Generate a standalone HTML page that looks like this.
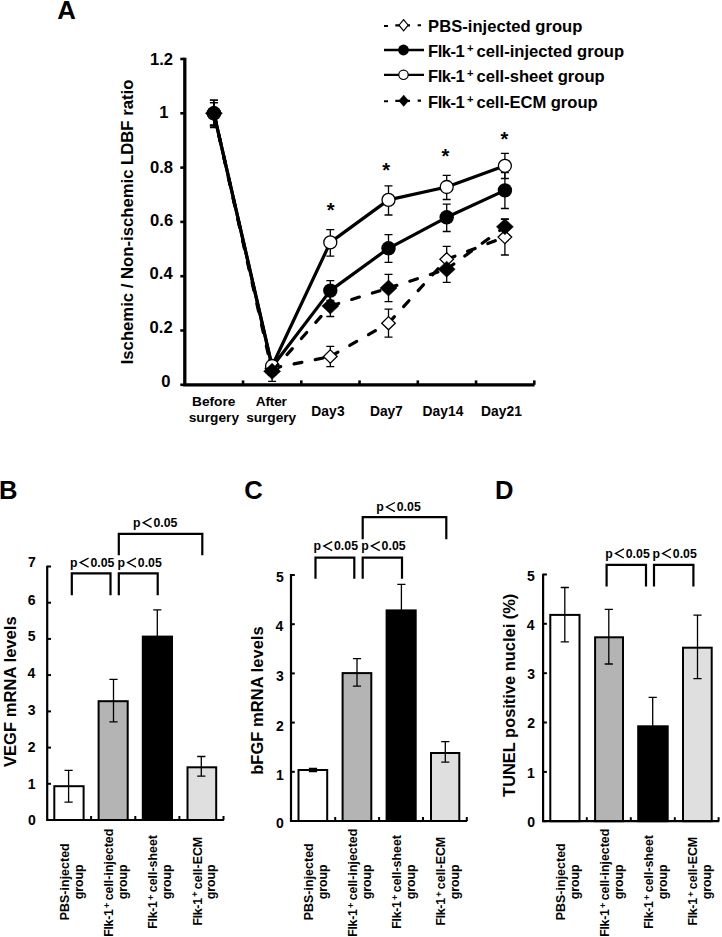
<!DOCTYPE html>
<html><head><meta charset="utf-8"><style>
html,body{margin:0;padding:0;background:#fff;}
body{width:722px;height:937px;overflow:hidden;}
svg{display:block;font-family:"Liberation Sans", sans-serif;font-weight:bold;}
text{fill:#000;}
</style></head><body>
<svg width="722" height="937" viewBox="0 0 722 937">
<text x="57.36" y="18.60" font-size="25.8">A</text>
<path d="M184.8,57.8 V384.8 H534.6" fill="none" stroke="#000" stroke-width="3.3"/>
<line x1="180.3" y1="59.00" x2="184.8" y2="59.00" stroke="#000" stroke-width="2.6"/>
<line x1="180.3" y1="113.30" x2="184.8" y2="113.30" stroke="#000" stroke-width="2.6"/>
<line x1="180.3" y1="167.60" x2="184.8" y2="167.60" stroke="#000" stroke-width="2.6"/>
<line x1="180.3" y1="221.90" x2="184.8" y2="221.90" stroke="#000" stroke-width="2.6"/>
<line x1="180.3" y1="276.20" x2="184.8" y2="276.20" stroke="#000" stroke-width="2.6"/>
<line x1="180.3" y1="330.50" x2="184.8" y2="330.50" stroke="#000" stroke-width="2.6"/>
<line x1="180.3" y1="384.80" x2="184.8" y2="384.80" stroke="#000" stroke-width="2.6"/>
<line x1="243.05" y1="380.4" x2="243.05" y2="384.8" stroke="#000" stroke-width="2.6"/>
<line x1="301.30" y1="380.4" x2="301.30" y2="384.8" stroke="#000" stroke-width="2.6"/>
<line x1="359.55" y1="380.4" x2="359.55" y2="384.8" stroke="#000" stroke-width="2.6"/>
<line x1="417.80" y1="380.4" x2="417.80" y2="384.8" stroke="#000" stroke-width="2.6"/>
<line x1="476.05" y1="380.4" x2="476.05" y2="384.8" stroke="#000" stroke-width="2.6"/>
<line x1="534.30" y1="380.4" x2="534.30" y2="384.8" stroke="#000" stroke-width="2.6"/>
<text x="149.99" y="64.95" font-size="16.6">1.2</text>
<text x="159.23" y="118.35" font-size="16.6">1</text>
<text x="149.93" y="173.00" font-size="16.6">0.8</text>
<text x="150.12" y="225.95" font-size="16.6">0.6</text>
<text x="149.61" y="279.45" font-size="16.6">0.4</text>
<text x="149.59" y="332.95" font-size="16.6">0.2</text>
<text x="161.15" y="386.65" font-size="16.6">0</text>
<text transform="translate(133.20,364.32) rotate(-90)" font-size="16.7">Ischemic / Non-ischemic LDBF ratio</text>
<text x="192.08" y="405.80" font-size="13.7" letter-spacing="-0.022">Before</text>
<text x="188.72" y="421.60" font-size="13.7" letter-spacing="0.016">surgery</text>
<text x="255.76" y="405.80" font-size="13.7" letter-spacing="-0.205">After</text>
<text x="246.32" y="421.60" font-size="13.7" letter-spacing="-0.084">surgery</text>
<text x="311.18" y="415.80" font-size="13.8" letter-spacing="0.144">Day3</text>
<text x="369.98" y="415.80" font-size="13.8" letter-spacing="-0.054">Day7</text>
<text x="422.58" y="415.80" font-size="13.8" letter-spacing="0.033">Day14</text>
<text x="480.88" y="415.80" font-size="13.8" letter-spacing="0.110">Day21</text>
<path d="M209.9,100.2 H217.9 M213.9,100.2 V127.5 M209.9,127.5 H217.9" stroke="#000" stroke-width="1.3" fill="none"/>
<path d="M268.1,362 H276.1 M272.1,362 V375 M268.1,375 H276.1" stroke="#000" stroke-width="1.3" fill="none"/>
<path d="M326.3,346.4 H334.3 M330.3,346.4 V366.7 M326.3,366.7 H334.3" stroke="#000" stroke-width="1.3" fill="none"/>
<path d="M384.5,309.1 H392.5 M388.5,309.1 V337.2 M384.5,337.2 H392.5" stroke="#000" stroke-width="1.3" fill="none"/>
<path d="M442.7,246.3 H450.7 M446.7,246.3 V271.3 M442.7,271.3 H450.7" stroke="#000" stroke-width="1.3" fill="none"/>
<path d="M500.9,219.3 H508.9 M504.9,219.3 V255.0 M500.9,255.0 H508.9" stroke="#000" stroke-width="1.3" fill="none"/>
<path d="M209.9,100.2 H217.9 M213.9,100.2 V126.0 M209.9,126.0 H217.9" stroke="#000" stroke-width="1.3" fill="none"/>
<path d="M268.1,361 H276.1 M272.1,361 V375 M268.1,375 H276.1" stroke="#000" stroke-width="1.3" fill="none"/>
<path d="M326.3,280.7 H334.3 M330.3,280.7 V300.5 M326.3,300.5 H334.3" stroke="#000" stroke-width="1.3" fill="none"/>
<path d="M384.5,234.6 H392.5 M388.5,234.6 V262.3 M384.5,262.3 H392.5" stroke="#000" stroke-width="1.3" fill="none"/>
<path d="M442.7,204.1 H450.7 M446.7,204.1 V231.5 M442.7,231.5 H450.7" stroke="#000" stroke-width="1.3" fill="none"/>
<path d="M500.9,172.5 H508.9 M504.9,172.5 V208.5 M500.9,208.5 H508.9" stroke="#000" stroke-width="1.3" fill="none"/>
<path d="M209.9,102.6 H217.9 M213.9,102.6 V124.8 M209.9,124.8 H217.9" stroke="#000" stroke-width="1.3" fill="none"/>
<path d="M268.1,360 H276.1 M272.1,360 V374 M268.1,374 H276.1" stroke="#000" stroke-width="1.3" fill="none"/>
<path d="M326.3,229.7 H334.3 M330.3,229.7 V256.2 M326.3,256.2 H334.3" stroke="#000" stroke-width="1.3" fill="none"/>
<path d="M384.5,185.9 H392.5 M388.5,185.9 V215.0 M384.5,215.0 H392.5" stroke="#000" stroke-width="1.3" fill="none"/>
<path d="M442.7,175.4 H450.7 M446.7,175.4 V199.5 M442.7,199.5 H450.7" stroke="#000" stroke-width="1.3" fill="none"/>
<path d="M500.9,153.3 H508.9 M504.9,153.3 V178.5 M500.9,178.5 H508.9" stroke="#000" stroke-width="1.3" fill="none"/>
<path d="M209.9,102.6 H217.9 M213.9,102.6 V125.5 M209.9,125.5 H217.9" stroke="#000" stroke-width="1.3" fill="none"/>
<path d="M268.1,361.5 H276.1 M272.1,361.5 V381.3 M268.1,381.3 H276.1" stroke="#000" stroke-width="1.3" fill="none"/>
<path d="M326.3,294.0 H334.3 M330.3,294.0 V316.5 M326.3,316.5 H334.3" stroke="#000" stroke-width="1.3" fill="none"/>
<path d="M384.5,274.4 H392.5 M388.5,274.4 V301.6 M384.5,301.6 H392.5" stroke="#000" stroke-width="1.3" fill="none"/>
<path d="M442.7,257.5 H450.7 M446.7,257.5 V282.4 M442.7,282.4 H450.7" stroke="#000" stroke-width="1.3" fill="none"/>
<path d="M500.9,218.8 H508.9 M504.9,218.8 V235.0 M500.9,235.0 H508.9" stroke="#000" stroke-width="1.3" fill="none"/>
<path d="M213.9,113.3 L272.1,368.4" fill="none" stroke="#000" stroke-width="3.2" stroke-dasharray="8 13.6" stroke-dashoffset="-0.8" stroke-linecap="round"/>
<path d="M272.1,368.4 L330.3,356.5" fill="none" stroke="#000" stroke-width="3.2" stroke-dasharray="8 13.6" stroke-dashoffset="-0.8" stroke-linecap="round"/>
<path d="M330.3,356.5 L388.5,323.2" fill="none" stroke="#000" stroke-width="3.2" stroke-dasharray="8 13.6" stroke-dashoffset="-0.8" stroke-linecap="round"/>
<path d="M388.5,323.2 L446.7,259.3" fill="none" stroke="#000" stroke-width="3.2" stroke-dasharray="8 13.6" stroke-dashoffset="-0.8" stroke-linecap="round"/>
<path d="M446.7,259.3 L504.9,237.1" fill="none" stroke="#000" stroke-width="3.2" stroke-dasharray="8 13.6" stroke-dashoffset="-0.8" stroke-linecap="round"/>
<path d="M213.9,106.7 L220.7,113.3 L213.9,119.9 L207.1,113.3 Z" fill="#fff" stroke="#000" stroke-width="1.3"/>
<path d="M272.1,361.8 L278.9,368.4 L272.1,375.0 L265.3,368.4 Z" fill="#fff" stroke="#000" stroke-width="1.3"/>
<path d="M330.3,349.9 L337.1,356.5 L330.3,363.1 L323.5,356.5 Z" fill="#fff" stroke="#000" stroke-width="1.3"/>
<path d="M388.5,316.6 L395.3,323.2 L388.5,329.8 L381.7,323.2 Z" fill="#fff" stroke="#000" stroke-width="1.3"/>
<path d="M446.7,252.7 L453.5,259.3 L446.7,265.9 L439.9,259.3 Z" fill="#fff" stroke="#000" stroke-width="1.3"/>
<path d="M504.9,230.5 L511.7,237.1 L504.9,243.7 L498.1,237.1 Z" fill="#fff" stroke="#000" stroke-width="1.3"/>
<polyline points="213.9,113.3 272.1,367.0 330.3,290.6 388.5,248.3 446.7,217.3 504.9,190.4" fill="none" stroke="#000" stroke-width="3.2" stroke-linejoin="round"/>
<circle cx="213.9" cy="113.3" r="7.2" fill="#000"/>
<circle cx="272.1" cy="367.0" r="7.2" fill="#000"/>
<circle cx="330.3" cy="290.6" r="7.2" fill="#000"/>
<circle cx="388.5" cy="248.3" r="7.2" fill="#000"/>
<circle cx="446.7" cy="217.3" r="7.2" fill="#000"/>
<circle cx="504.9" cy="190.4" r="7.2" fill="#000"/>
<polyline points="213.9,113.3 272.1,366.0 330.3,242.4 388.5,199.9 446.7,187.0 504.9,165.8" fill="none" stroke="#000" stroke-width="3.2" stroke-linejoin="round"/>
<circle cx="213.9" cy="113.3" r="6.5" fill="#fff" stroke="#000" stroke-width="1.3"/>
<circle cx="272.1" cy="366.0" r="6.5" fill="#fff" stroke="#000" stroke-width="1.3"/>
<circle cx="330.3" cy="242.4" r="6.5" fill="#fff" stroke="#000" stroke-width="1.3"/>
<circle cx="388.5" cy="199.9" r="6.5" fill="#fff" stroke="#000" stroke-width="1.3"/>
<circle cx="446.7" cy="187.0" r="6.5" fill="#fff" stroke="#000" stroke-width="1.3"/>
<circle cx="504.9" cy="165.8" r="6.5" fill="#fff" stroke="#000" stroke-width="1.3"/>
<path d="M213.9,113.3 L272.1,371.3" fill="none" stroke="#000" stroke-width="3.2" stroke-dasharray="8 13.6" stroke-dashoffset="-0.8" stroke-linecap="round"/>
<path d="M272.1,371.3 L330.3,306.0" fill="none" stroke="#000" stroke-width="3.2" stroke-dasharray="8 13.6" stroke-dashoffset="-0.8" stroke-linecap="round"/>
<path d="M330.3,306.0 L388.5,288.1" fill="none" stroke="#000" stroke-width="3.2" stroke-dasharray="8 13.6" stroke-dashoffset="-0.8" stroke-linecap="round"/>
<path d="M388.5,288.1 L446.7,269.2" fill="none" stroke="#000" stroke-width="3.2" stroke-dasharray="8 13.6" stroke-dashoffset="-0.8" stroke-linecap="round"/>
<path d="M446.7,269.2 L504.9,226.8" fill="none" stroke="#000" stroke-width="3.2" stroke-dasharray="8 13.6" stroke-dashoffset="-0.8" stroke-linecap="round"/>
<path d="M213.9,105.3 L222.4,113.3 L213.9,121.3 L205.4,113.3 Z" fill="#000" stroke="#000" stroke-width="0.5"/>
<path d="M272.1,363.3 L280.6,371.3 L272.1,379.3 L263.6,371.3 Z" fill="#000" stroke="#000" stroke-width="0.5"/>
<path d="M330.3,298.0 L338.8,306.0 L330.3,314.0 L321.8,306.0 Z" fill="#000" stroke="#000" stroke-width="0.5"/>
<path d="M388.5,280.1 L397.0,288.1 L388.5,296.1 L380.0,288.1 Z" fill="#000" stroke="#000" stroke-width="0.5"/>
<path d="M446.7,261.2 L455.2,269.2 L446.7,277.2 L438.2,269.2 Z" fill="#000" stroke="#000" stroke-width="0.5"/>
<path d="M504.9,218.8 L513.4,226.8 L504.9,234.8 L496.4,226.8 Z" fill="#000" stroke="#000" stroke-width="0.5"/>
<text x="330.6" y="216.6" font-size="20" text-anchor="middle">*</text>
<text x="386.1" y="177.1" font-size="20" text-anchor="middle">*</text>
<text x="445.3" y="162.9" font-size="20" text-anchor="middle">*</text>
<text x="504.4" y="145.5" font-size="20" text-anchor="middle">*</text>
<path d="M384,26 H388 M395.3,25.4 H410 M417.6,25.2 H421" stroke="#000" stroke-width="2.1"/>
<path d="M403.6,19.6 L408.2,25.2 L403.6,30.8 L399.0,25.2 Z" fill="#fff" stroke="#000" stroke-width="1.2"/>
<line x1="384" y1="50.0" x2="424" y2="50.0" stroke="#000" stroke-width="2.6"/>
<circle cx="403.5" cy="50.0" r="5.4" fill="#000"/>
<line x1="384" y1="74.8" x2="424" y2="74.8" stroke="#000" stroke-width="2.2"/>
<circle cx="403.5" cy="74.8" r="4.7" fill="#fff" stroke="#000" stroke-width="1.2"/>
<path d="M384,101.3 H388 M395.3,100.9 H410 M417.6,100.6 H421" stroke="#000" stroke-width="2.1"/>
<path d="M403.7,95.0 L408.6,100.7 L403.7,106.4 L398.8,100.7 Z" fill="#000" stroke="#000" stroke-width="0.4"/>
<text x="428.09" y="31.70" font-size="16.6" letter-spacing="0.022">PBS-injected group</text>
<text x="428.09" y="56.50" font-size="16.6" letter-spacing="-0.518">Flk-1</text>
<text x="466.93" y="51.90" font-size="11.2">+</text>
<text x="476.45" y="56.50" font-size="16.6" letter-spacing="0.009">cell-injected group</text>
<text x="428.09" y="81.80" font-size="16.6" letter-spacing="-0.518">Flk-1</text>
<text x="466.93" y="77.20" font-size="11.2">+</text>
<text x="476.45" y="81.80" font-size="16.6" letter-spacing="0.008">cell-sheet group</text>
<text x="428.09" y="107.60" font-size="16.6" letter-spacing="-0.518">Flk-1</text>
<text x="466.93" y="103.00" font-size="11.2">+</text>
<text x="476.45" y="107.60" font-size="16.6" letter-spacing="-0.039">cell-ECM group</text>
<text x="-0.91" y="498.70" font-size="25.6">B</text>
<rect x="54.3" y="786.2" width="29.3" height="33.8" fill="#fff" stroke="#000" stroke-width="2"/>
<rect x="98.6" y="701.2" width="29.1" height="118.8" fill="#b4b4b4" stroke="#000" stroke-width="2"/>
<rect x="142.8" y="636.6" width="29.2" height="183.4" fill="#000" stroke="#000" stroke-width="2"/>
<rect x="187.5" y="767.3" width="28.7" height="52.7" fill="#dfdfdf" stroke="#000" stroke-width="2"/>
<path d="M64.5,770.3 H72.7 M68.6,770.3 V802.1 M64.5,802.1 H72.7" stroke="#000" stroke-width="1.3" fill="none"/>
<path d="M109.4,679.3 H117.6 M113.5,679.3 V721.8 M109.4,721.8 H117.6" stroke="#000" stroke-width="1.3" fill="none"/>
<path d="M153.2,609.8 H161.4 M157.3,609.8 V640 M153.2,640 H161.4" stroke="#000" stroke-width="1.3" fill="none"/>
<path d="M197.2,756.5 H205.4 M201.3,756.5 V776.2 M197.2,776.2 H205.4" stroke="#000" stroke-width="1.3" fill="none"/>
<path d="M47.2,565.7 V820.0 H223.9" fill="none" stroke="#000" stroke-width="2.2"/>
<line x1="47.2" y1="566.5" x2="51.0" y2="566.5" stroke="#000" stroke-width="2"/>
<line x1="47.2" y1="602.7" x2="51.0" y2="602.7" stroke="#000" stroke-width="2"/>
<line x1="47.2" y1="638.9" x2="51.0" y2="638.9" stroke="#000" stroke-width="2"/>
<line x1="47.2" y1="675.1" x2="51.0" y2="675.1" stroke="#000" stroke-width="2"/>
<line x1="47.2" y1="711.4" x2="51.0" y2="711.4" stroke="#000" stroke-width="2"/>
<line x1="47.2" y1="747.6" x2="51.0" y2="747.6" stroke="#000" stroke-width="2"/>
<line x1="47.2" y1="783.8" x2="51.0" y2="783.8" stroke="#000" stroke-width="2"/>
<line x1="47.2" y1="820.0" x2="51.0" y2="820.0" stroke="#000" stroke-width="2"/>
<line x1="91.1" y1="820.0" x2="91.1" y2="816.0" stroke="#000" stroke-width="2"/>
<line x1="135.3" y1="820.0" x2="135.3" y2="816.0" stroke="#000" stroke-width="2"/>
<line x1="179.4" y1="820.0" x2="179.4" y2="816.0" stroke="#000" stroke-width="2"/>
<line x1="223.5" y1="820.0" x2="223.5" y2="816.0" stroke="#000" stroke-width="2"/>
<text x="27.93" y="567.35" font-size="14">7</text>
<text x="27.82" y="604.55" font-size="14">6</text>
<text x="27.70" y="641.15" font-size="14">5</text>
<text x="27.39" y="677.75" font-size="14">4</text>
<text x="27.82" y="714.85" font-size="14">3</text>
<text x="27.87" y="751.65" font-size="14">2</text>
<text x="27.70" y="788.75" font-size="14">1</text>
<text x="27.89" y="824.85" font-size="14">0</text>
<text transform="translate(15.80,767.11) rotate(-90)" font-size="16.6" letter-spacing="0.013">VEGF mRNA levels</text>
<path d="M71.8,595.2 V573.4 H110.5 V595.2" fill="none" stroke="#000" stroke-width="2.2"/>
<path d="M118.8,595.2 V573.4 H157.7 V595.2" fill="none" stroke="#000" stroke-width="2.2"/>
<path d="M118.8,555.3 V533.9 H202.3 V555.3" fill="none" stroke="#000" stroke-width="2.2"/>
<text x="69.99" y="566.80" font-size="12.3">p</text>
<path d="M88.6,558.1 L80.2,562.6 L88.6,567.2" fill="none" stroke="#000" stroke-width="1.35"/>
<text x="90.41" y="566.80" font-size="12.3" letter-spacing="0.030">0.05</text>
<text x="117.39" y="566.80" font-size="12.3">p</text>
<path d="M136.0,558.1 L127.6,562.6 L136.0,567.2" fill="none" stroke="#000" stroke-width="1.35"/>
<text x="137.81" y="566.80" font-size="12.3" letter-spacing="0.030">0.05</text>
<text x="132.99" y="526.90" font-size="12.3">p</text>
<path d="M151.6,518.2 L143.2,522.7 L151.6,527.3" fill="none" stroke="#000" stroke-width="1.35"/>
<text x="153.41" y="526.90" font-size="12.3" letter-spacing="0.030">0.05</text>
<text transform="translate(69.20,920.23) rotate(-90)" font-size="12.4" letter-spacing="0.042">PBS-injected</text>
<text transform="translate(82.70,899.31) rotate(-90)" font-size="12.4" letter-spacing="-0.027">group</text>
<text transform="translate(113.30,900.35) rotate(-90)" font-size="12.4">cell-injected</text>
<text transform="translate(110.10,908.05) rotate(-90)" font-size="9.0">+</text>
<text transform="translate(113.30,936.80) rotate(-90)" font-size="12.4" letter-spacing="-0.317">Flk-1</text>
<text transform="translate(126.80,899.31) rotate(-90)" font-size="12.4" letter-spacing="-0.027">group</text>
<text transform="translate(157.40,892.25) rotate(-90)" font-size="12.4">cell-sheet</text>
<text transform="translate(154.20,899.95) rotate(-90)" font-size="9.0">+</text>
<text transform="translate(157.40,928.70) rotate(-90)" font-size="12.4" letter-spacing="-0.317">Flk-1</text>
<text transform="translate(170.90,899.31) rotate(-90)" font-size="12.4" letter-spacing="-0.027">group</text>
<text transform="translate(201.50,889.14) rotate(-90)" font-size="12.4">cell-ECM</text>
<text transform="translate(198.30,896.83) rotate(-90)" font-size="9.0">+</text>
<text transform="translate(201.50,925.58) rotate(-90)" font-size="12.4" letter-spacing="-0.317">Flk-1</text>
<text transform="translate(215.00,899.31) rotate(-90)" font-size="12.4" letter-spacing="-0.027">group</text>
<text x="244.15" y="498.70" font-size="25.6">C</text>
<rect x="298.5" y="770.0" width="28.7" height="51.0" fill="#fff" stroke="#000" stroke-width="2"/>
<rect x="342.6" y="673.1" width="28.7" height="147.9" fill="#b4b4b4" stroke="#000" stroke-width="2"/>
<rect x="386.6" y="610.4" width="29.1" height="210.6" fill="#000" stroke="#000" stroke-width="2"/>
<rect x="431.0" y="753.0" width="28.3" height="68.0" fill="#dfdfdf" stroke="#000" stroke-width="2"/>
<path d="M308.9,768.3 H317.1 M313.0,768.3 V771.7 M308.9,771.7 H317.1" stroke="#000" stroke-width="1.3" fill="none"/>
<path d="M352.9,658.6 H361.1 M357.0,658.6 V686.1 M352.9,686.1 H361.1" stroke="#000" stroke-width="1.3" fill="none"/>
<path d="M397.3,584.4 H405.5 M401.4,584.4 V620 M397.3,620 H405.5" stroke="#000" stroke-width="1.3" fill="none"/>
<path d="M441.2,741.7 H449.4 M445.3,741.7 V762.2 M441.2,762.2 H449.4" stroke="#000" stroke-width="1.3" fill="none"/>
<path d="M291.0,574.1 V821.0 H467.2" fill="none" stroke="#000" stroke-width="2.2"/>
<line x1="291.0" y1="575.0" x2="294.8" y2="575.0" stroke="#000" stroke-width="2"/>
<line x1="291.0" y1="624.2" x2="294.8" y2="624.2" stroke="#000" stroke-width="2"/>
<line x1="291.0" y1="673.4" x2="294.8" y2="673.4" stroke="#000" stroke-width="2"/>
<line x1="291.0" y1="722.6" x2="294.8" y2="722.6" stroke="#000" stroke-width="2"/>
<line x1="291.0" y1="771.8" x2="294.8" y2="771.8" stroke="#000" stroke-width="2"/>
<line x1="291.0" y1="821.0" x2="294.8" y2="821.0" stroke="#000" stroke-width="2"/>
<line x1="335.2" y1="821.0" x2="335.2" y2="817.0" stroke="#000" stroke-width="2"/>
<line x1="379.1" y1="821.0" x2="379.1" y2="817.0" stroke="#000" stroke-width="2"/>
<line x1="423.0" y1="821.0" x2="423.0" y2="817.0" stroke="#000" stroke-width="2"/>
<line x1="466.8" y1="821.0" x2="466.8" y2="817.0" stroke="#000" stroke-width="2"/>
<text x="275.90" y="582.25" font-size="14">5</text>
<text x="275.59" y="631.25" font-size="14">4</text>
<text x="276.02" y="680.95" font-size="14">3</text>
<text x="276.07" y="730.55" font-size="14">2</text>
<text x="275.90" y="780.05" font-size="14">1</text>
<text x="276.09" y="828.45" font-size="14">0</text>
<text transform="translate(262.90,774.79) rotate(-90)" font-size="16.5" letter-spacing="0.035">bFGF mRNA levels</text>
<path d="M315.5,578.8 V557.7 H354.3 V578.8" fill="none" stroke="#000" stroke-width="2.2"/>
<path d="M362.7,578.8 V557.7 H402.0 V578.8" fill="none" stroke="#000" stroke-width="2.2"/>
<path d="M362.7,539.3 V517.2 H446.3 V539.3" fill="none" stroke="#000" stroke-width="2.2"/>
<text x="313.59" y="550.30" font-size="12.3">p</text>
<path d="M332.2,541.6 L323.8,546.1 L332.2,550.7" fill="none" stroke="#000" stroke-width="1.35"/>
<text x="334.01" y="550.30" font-size="12.3" letter-spacing="0.030">0.05</text>
<text x="361.19" y="550.30" font-size="12.3">p</text>
<path d="M379.8,541.6 L371.4,546.1 L379.8,550.7" fill="none" stroke="#000" stroke-width="1.35"/>
<text x="381.61" y="550.30" font-size="12.3" letter-spacing="0.030">0.05</text>
<text x="376.29" y="511.20" font-size="12.3">p</text>
<path d="M394.9,502.5 L386.5,507.0 L394.9,511.6" fill="none" stroke="#000" stroke-width="1.35"/>
<text x="396.71" y="511.20" font-size="12.3" letter-spacing="0.030">0.05</text>
<text transform="translate(313.10,920.23) rotate(-90)" font-size="12.4" letter-spacing="0.042">PBS-injected</text>
<text transform="translate(326.60,899.31) rotate(-90)" font-size="12.4" letter-spacing="-0.027">group</text>
<text transform="translate(357.10,900.35) rotate(-90)" font-size="12.4">cell-injected</text>
<text transform="translate(353.90,908.05) rotate(-90)" font-size="9.0">+</text>
<text transform="translate(357.10,936.80) rotate(-90)" font-size="12.4" letter-spacing="-0.317">Flk-1</text>
<text transform="translate(370.60,899.31) rotate(-90)" font-size="12.4" letter-spacing="-0.027">group</text>
<text transform="translate(401.10,892.25) rotate(-90)" font-size="12.4">cell-sheet</text>
<text transform="translate(397.90,899.95) rotate(-90)" font-size="9.0">+</text>
<text transform="translate(401.10,928.70) rotate(-90)" font-size="12.4" letter-spacing="-0.317">Flk-1</text>
<text transform="translate(414.60,899.31) rotate(-90)" font-size="12.4" letter-spacing="-0.027">group</text>
<text transform="translate(445.10,889.14) rotate(-90)" font-size="12.4">cell-ECM</text>
<text transform="translate(441.90,896.83) rotate(-90)" font-size="9.0">+</text>
<text transform="translate(445.10,925.58) rotate(-90)" font-size="12.4" letter-spacing="-0.317">Flk-1</text>
<text transform="translate(458.60,899.31) rotate(-90)" font-size="12.4" letter-spacing="-0.027">group</text>
<text x="495.09" y="498.50" font-size="25.6">D</text>
<rect x="550.3" y="614.9" width="29.2" height="206.3" fill="#fff" stroke="#000" stroke-width="2"/>
<rect x="595.1" y="637.3" width="27.9" height="183.9" fill="#b4b4b4" stroke="#000" stroke-width="2"/>
<rect x="638.2" y="726.3" width="29.5" height="94.9" fill="#000" stroke="#000" stroke-width="2"/>
<rect x="683.0" y="647.7" width="28.7" height="173.5" fill="#dfdfdf" stroke="#000" stroke-width="2"/>
<path d="M560.7,587.5 H568.9 M564.8,587.5 V641.9 M560.7,641.9 H568.9" stroke="#000" stroke-width="1.3" fill="none"/>
<path d="M604.7,609.3 H612.9 M608.8,609.3 V664.0 M604.7,664.0 H612.9" stroke="#000" stroke-width="1.3" fill="none"/>
<path d="M648.6,697.3 H656.8 M652.7,697.3 V740 M648.6,740 H656.8" stroke="#000" stroke-width="1.3" fill="none"/>
<path d="M693.4,615.2 H701.6 M697.5,615.2 V678.7 M693.4,678.7 H701.6" stroke="#000" stroke-width="1.3" fill="none"/>
<path d="M543.1,573.7 V821.2 H719.2" fill="none" stroke="#000" stroke-width="2.2"/>
<line x1="543.1" y1="574.5" x2="546.9" y2="574.5" stroke="#000" stroke-width="2"/>
<line x1="543.1" y1="623.8" x2="546.9" y2="623.8" stroke="#000" stroke-width="2"/>
<line x1="543.1" y1="673.2" x2="546.9" y2="673.2" stroke="#000" stroke-width="2"/>
<line x1="543.1" y1="722.5" x2="546.9" y2="722.5" stroke="#000" stroke-width="2"/>
<line x1="543.1" y1="771.9" x2="546.9" y2="771.9" stroke="#000" stroke-width="2"/>
<line x1="543.1" y1="821.2" x2="546.9" y2="821.2" stroke="#000" stroke-width="2"/>
<line x1="586.8" y1="821.2" x2="586.8" y2="817.2" stroke="#000" stroke-width="2"/>
<line x1="630.8" y1="821.2" x2="630.8" y2="817.2" stroke="#000" stroke-width="2"/>
<line x1="674.8" y1="821.2" x2="674.8" y2="817.2" stroke="#000" stroke-width="2"/>
<line x1="718.6" y1="821.2" x2="718.6" y2="817.2" stroke="#000" stroke-width="2"/>
<text x="527.10" y="581.15" font-size="14">5</text>
<text x="526.79" y="630.45" font-size="14">4</text>
<text x="527.22" y="679.45" font-size="14">3</text>
<text x="527.27" y="728.45" font-size="14">2</text>
<text x="527.10" y="778.05" font-size="14">1</text>
<text x="527.29" y="827.25" font-size="14">0</text>
<text transform="translate(514.60,796.88) rotate(-90)" font-size="16.4" letter-spacing="0.017">TUNEL positive nuclei (%)</text>
<path d="M606.6,586.5 V564.9 H646.0 V586.5" fill="none" stroke="#000" stroke-width="2.2"/>
<path d="M654.0,586.5 V564.9 H693.4 V586.5" fill="none" stroke="#000" stroke-width="2.2"/>
<text x="605.29" y="557.60" font-size="12.3">p</text>
<path d="M623.9,548.9 L615.5,553.4 L623.9,558.0" fill="none" stroke="#000" stroke-width="1.35"/>
<text x="625.71" y="557.60" font-size="12.3" letter-spacing="0.030">0.05</text>
<text x="652.39" y="557.60" font-size="12.3">p</text>
<path d="M671.0,548.9 L662.6,553.4 L671.0,558.0" fill="none" stroke="#000" stroke-width="1.35"/>
<text x="672.81" y="557.60" font-size="12.3" letter-spacing="0.030">0.05</text>
<text transform="translate(565.10,920.23) rotate(-90)" font-size="12.4" letter-spacing="0.042">PBS-injected</text>
<text transform="translate(578.60,899.31) rotate(-90)" font-size="12.4" letter-spacing="-0.027">group</text>
<text transform="translate(609.10,900.35) rotate(-90)" font-size="12.4">cell-injected</text>
<text transform="translate(605.90,908.05) rotate(-90)" font-size="9.0">+</text>
<text transform="translate(609.10,936.80) rotate(-90)" font-size="12.4" letter-spacing="-0.317">Flk-1</text>
<text transform="translate(622.60,899.31) rotate(-90)" font-size="12.4" letter-spacing="-0.027">group</text>
<text transform="translate(653.10,892.25) rotate(-90)" font-size="12.4">cell-sheet</text>
<text transform="translate(649.90,899.95) rotate(-90)" font-size="9.0">+</text>
<text transform="translate(653.10,928.70) rotate(-90)" font-size="12.4" letter-spacing="-0.317">Flk-1</text>
<text transform="translate(666.60,899.31) rotate(-90)" font-size="12.4" letter-spacing="-0.027">group</text>
<text transform="translate(697.10,889.14) rotate(-90)" font-size="12.4">cell-ECM</text>
<text transform="translate(693.90,896.83) rotate(-90)" font-size="9.0">+</text>
<text transform="translate(697.10,925.58) rotate(-90)" font-size="12.4" letter-spacing="-0.317">Flk-1</text>
<text transform="translate(710.60,899.31) rotate(-90)" font-size="12.4" letter-spacing="-0.027">group</text>
</svg>
</body></html>
